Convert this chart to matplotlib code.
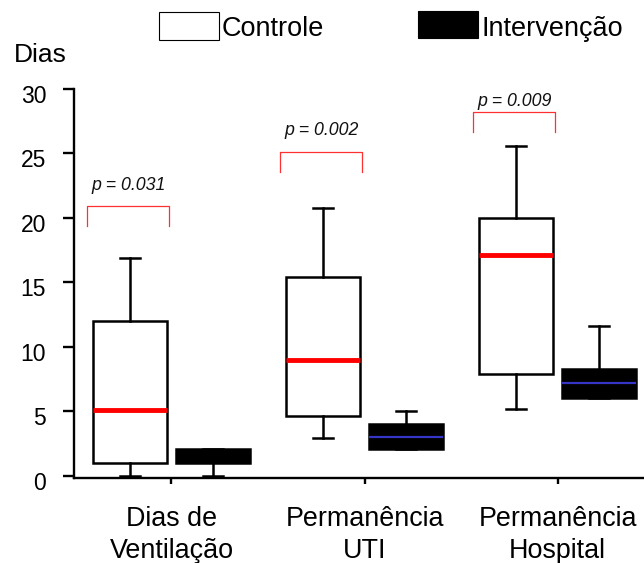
import matplotlib
matplotlib.use("Agg")
import matplotlib.pyplot as plt
from matplotlib.patches import Rectangle
from matplotlib.transforms import ScaledTranslation

plt.rcParams.update({
    'font.family': ['Liberation Sans', 'DejaVu Sans'],
    'axes.linewidth': 1.7,
})

categories = ["Dias de\nVentilação", "Permanência\nUTI", "Permanência\nHospital"]
p_labels = ["p = 0.031", "p = 0.002", "p = 0.009"]

# controle
ctrl_lo = [0.0, 2.9, 5.2]
ctrl_q1 = [1.0, 4.6, 7.9]
ctrl_med = [5.1, 9.0, 17.1]
ctrl_q3 = [12.0, 15.4, 20.0]
ctrl_hi = [16.9, 20.8, 25.6]

# intervencao
int_lo = [0.0, 2.05, 6.0]
int_q1 = [1.0, 2.05, 6.0]
int_med = [1.5, 3.0, 7.2]
int_q3 = [2.1, 4.0, 8.3]
int_hi = [2.1, 5.0, 11.6]

bracket_top = [20.9, 25.1, 28.2]
p_text_y = [22.55, 26.75, 29.0]

fig = plt.figure(figsize=(6.44, 5.63), dpi=100)
W, H = 644, 563
ax = fig.add_axes([74 / W, 1 - 478 / H, (W - 74) / W, (478 - 89) / H])

off, bw, cw = 0.215, 0.38, 0.104


def stats(lo, q1, med, q3, hi):
    return [dict(whislo=a, q1=b, med=c, q3=d, whishi=e)
            for a, b, c, d, e in zip(lo, q1, med, q3, hi)]


lw = 1.8
centers = list(range(len(categories)))
ax.bxp(stats(ctrl_lo, ctrl_q1, ctrl_med, ctrl_q3, ctrl_hi),
       positions=[c - off for c in centers], widths=bw, capwidths=cw,
       showfliers=False, patch_artist=True,
       boxprops=dict(facecolor='white', edgecolor='black', linewidth=lw),
       whiskerprops=dict(color='black', linewidth=lw),
       capprops=dict(color='black', linewidth=lw),
       medianprops=dict(color='#ff0000', linewidth=3.5, solid_capstyle='butt'))
res = ax.bxp(stats(int_lo, int_q1, int_med, int_q3, int_hi),
             positions=[c + off for c in centers], widths=bw, capwidths=cw,
             showfliers=False, patch_artist=True,
             boxprops=dict(facecolor='black', edgecolor='black', linewidth=lw),
             whiskerprops=dict(color='black', linewidth=lw),
             capprops=dict(color='black', linewidth=lw),
             medianprops=dict(color='#3535c8', linewidth=1.6, solid_capstyle='butt'))
res['medians'][0].set_visible(False)

# brackets with p values
for c, top, ty, lab in zip(centers, bracket_top, p_text_y, p_labels):
    x0, x1 = c - 0.437, c - 0.012
    ax.plot([x0, x0, x1, x1], [top - 1.55, top, top, top - 1.55],
            color='#ff3030', linewidth=0.9, clip_on=False)
    ax.text((x0 + x1) / 2, ty, lab, ha='center', va='center',
            fontsize=12.8, style='italic', color='#111111')

ax.set_xlim(-0.505, 2.448)
ax.set_ylim(-0.18, 30)
ax.set_yticks([0, 5, 10, 15, 20, 25, 30])
ax.set_xticks(centers)
ax.set_xticklabels(categories, fontsize=19.4, linespacing=1.3)
ax.tick_params(axis='y', labelsize=16.5, length=8, width=1.7, pad=12)
ax.tick_params(axis='x', length=4, width=1.7, pad=16)
shift = ScaledTranslation(0, -5 / 100, fig.dpi_scale_trans)
for t in ax.get_yticklabels():
    t.set_transform(t.get_transform() + shift)
for s in ['top', 'right']:
    ax.spines[s].set_visible(False)

fig.text(14 / W, 1 - 55 / H, "Dias", fontsize=19, va='center', ha='left')

# legend
fig.add_artist(Rectangle((159 / W, 1 - 40 / H), 60 / W, 28 / H,
                         transform=fig.transFigure, facecolor='white',
                         edgecolor='black', linewidth=0.8))
fig.text(222 / W, 1 - 29 / H, "Controle", fontsize=19.5, va='center', ha='left')
fig.add_artist(Rectangle((418 / W, 1 - 38 / H), 60 / W, 27 / H,
                         transform=fig.transFigure, facecolor='black',
                         edgecolor='black', linewidth=0.8))
fig.text(481 / W, 1 - 29 / H, "Intervenção", fontsize=19.5, va='center', ha='left')

fig.savefig("out.png", dpi=100)
